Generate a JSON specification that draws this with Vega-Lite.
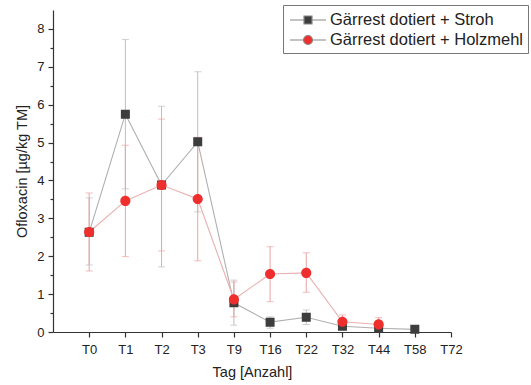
{
  "$schema": "https://vega.github.io/schema/vega-lite/v6.json",
  "autosize": {"type": "none"},
  "width": 398,
  "height": 322,
  "padding": {"left": 53, "top": 10, "right": 80, "bottom": 53},
  "background": "white",
  "config": {
    "view": {"stroke": null},
    "font": "Liberation Sans",
    "axis": {
      "domainColor": "#333",
      "tickColor": "#333",
      "labelColor": "#222",
      "titleColor": "#222",
      "labelFont": "Liberation Sans",
      "titleFont": "Liberation Sans",
      "labelFontSize": 13,
      "titleFontSize": 14.5,
      "titleFontWeight": "normal",
      "grid": false,
      "tickSize": 5,
      "domainWidth": 1.2,
      "tickWidth": 1.2
    }
  },
  "data": {
    "values": [
      {"tag": "T0", "series": "Gärrest dotiert + Stroh", "mean": 2.63, "lo": 1.77, "hi": 3.54},
      {"tag": "T1", "series": "Gärrest dotiert + Stroh", "mean": 5.75, "lo": 3.78, "hi": 7.72},
      {"tag": "T2", "series": "Gärrest dotiert + Stroh", "mean": 3.88, "lo": 1.72, "hi": 5.96},
      {"tag": "T3", "series": "Gärrest dotiert + Stroh", "mean": 5.02, "lo": 3.17, "hi": 6.87},
      {"tag": "T9", "series": "Gärrest dotiert + Stroh", "mean": 0.77, "lo": 0.18, "hi": 1.37},
      {"tag": "T16", "series": "Gärrest dotiert + Stroh", "mean": 0.26, "lo": 0.1, "hi": 0.4},
      {"tag": "T22", "series": "Gärrest dotiert + Stroh", "mean": 0.39, "lo": 0.2, "hi": 0.58},
      {"tag": "T32", "series": "Gärrest dotiert + Stroh", "mean": 0.15, "lo": 0.08, "hi": 0.22},
      {"tag": "T44", "series": "Gärrest dotiert + Stroh", "mean": 0.1, "lo": 0.05, "hi": 0.15},
      {"tag": "T58", "series": "Gärrest dotiert + Stroh", "mean": 0.07, "lo": 0.04, "hi": 0.1},
      {"tag": "T0", "series": "Gärrest dotiert + Holzmehl", "mean": 2.64, "lo": 1.61, "hi": 3.67},
      {"tag": "T1", "series": "Gärrest dotiert + Holzmehl", "mean": 3.46, "lo": 1.99, "hi": 4.93},
      {"tag": "T2", "series": "Gärrest dotiert + Holzmehl", "mean": 3.88, "lo": 2.14, "hi": 5.62},
      {"tag": "T3", "series": "Gärrest dotiert + Holzmehl", "mean": 3.51, "lo": 1.88, "hi": 5.14},
      {"tag": "T9", "series": "Gärrest dotiert + Holzmehl", "mean": 0.86, "lo": 0.4, "hi": 1.32},
      {"tag": "T16", "series": "Gärrest dotiert + Holzmehl", "mean": 1.53, "lo": 0.8, "hi": 2.25},
      {"tag": "T22", "series": "Gärrest dotiert + Holzmehl", "mean": 1.56, "lo": 1.05, "hi": 2.09},
      {"tag": "T32", "series": "Gärrest dotiert + Holzmehl", "mean": 0.27, "lo": 0.1, "hi": 0.45},
      {"tag": "T44", "series": "Gärrest dotiert + Holzmehl", "mean": 0.2, "lo": 0.03, "hi": 0.38}
    ]
  },
  "encoding": {
    "x": {
      "field": "tag",
      "type": "ordinal",
      "scale": {
        "type": "point",
        "domain": ["T0", "T1", "T2", "T3", "T9", "T16", "T22", "T32", "T44", "T58", "T72"],
        "padding": 0.5,
        "align": 1
      },
      "axis": {"title": "Tag [Anzahl]", "labelAngle": 0, "labelPadding": 6, "titlePadding": 9}
    }
  },
  "layer": [
    {
      "mark": {"type": "rule", "strokeWidth": 1},
      "encoding": {
        "y": {
          "field": "lo",
          "type": "quantitative",
          "scale": {"domain": [0, 8.5], "nice": false},
          "axis": {"title": "Ofloxacin [µg/kg TM]", "values": [0, 1, 2, 3, 4, 5, 6, 7, 8], "titlePadding": 7, "labelPadding": 4}
        },
        "y2": {"field": "hi"},
        "detail": {"field": "series"},
        "stroke": {"condition": {"test": "datum.series === 'Gärrest dotiert + Stroh'", "value": "#bdbdbd"}, "value": "#eba3a3"}
      }
    },
    {
      "mark": {"type": "tick", "orient": "horizontal", "size": 7, "thickness": 1},
      "encoding": {
        "y": {
          "field": "lo",
          "type": "quantitative",
          "scale": {"domain": [0, 8.5], "nice": false},
          "axis": {"orient": "left", "offset": 0, "title": null, "values": [0.5, 1.5, 2.5, 3.5, 4.5, 5.5, 6.5, 7.5], "labels": false, "domain": false, "tickSize": 3}
        },
        "detail": {"field": "series"},
        "color": {"condition": {"test": "datum.series === 'Gärrest dotiert + Stroh'", "value": "#bdbdbd"}, "value": "#eba3a3"}
      }
    },
    {
      "mark": {"type": "tick", "orient": "horizontal", "size": 7, "thickness": 1},
      "encoding": {
        "y": {"field": "hi", "type": "quantitative", "scale": {"domain": [0, 8.5], "nice": false}, "axis": null},
        "detail": {"field": "series"},
        "color": {"condition": {"test": "datum.series === 'Gärrest dotiert + Stroh'", "value": "#bdbdbd"}, "value": "#eba3a3"}
      }
    },
    {
      "mark": {"type": "line", "strokeWidth": 1.1},
      "encoding": {
        "y": {"field": "mean", "type": "quantitative", "scale": {"domain": [0, 8.5], "nice": false}, "axis": null},
        "detail": {"field": "series"},
        "stroke": {"condition": {"test": "datum.series === 'Gärrest dotiert + Stroh'", "value": "#b0b0b0"}, "value": "#e9b0b0"}
      }
    },
    {
      "mark": {"type": "point", "filled": true, "opacity": 1, "size": 506, "strokeWidth": 0},
      "encoding": {
        "y": {"field": "mean", "type": "quantitative", "scale": {"domain": [0, 8.5], "nice": false}, "axis": null},
        "color": {
          "field": "series",
          "type": "nominal",
          "scale": {"domain": ["Gärrest dotiert + Stroh", "Gärrest dotiert + Holzmehl"], "range": ["#3d3d3d", "#ef2e2e"]},
          "legend": {
            "title": null,
            "orient": "none",
            "legendX": 230,
            "legendY": -5,
            "strokeColor": "#777",
            "fillColor": "white",
            "padding": 4,
            "labelFont": "Liberation Sans",
            "labelFontSize": 16.5,
            "labelColor": "#222",
            "labelLimit": 300,
            "symbolSize": 400,
            "symbolOffset": 10,
            "symbolStrokeWidth": 1.2,
            "symbolStrokeColor": "#888",
            "rowPadding": 0,
            "labelOffset": 11
          }
        },
        "shape": {
          "field": "series",
          "type": "nominal",
          "scale": {
            "domain": ["Gärrest dotiert + Stroh", "Gärrest dotiert + Holzmehl"],
            "range": [
              "M-1.8,0H-0.4M0.4,0H1.8M-0.4,-0.4H0.4V0.4H-0.4Z",
              "M-1.8,0H-0.45M0.45,0H1.8M-0.45,0A0.45,0.45,0,1,0,0.45,0A0.45,0.45,0,1,0,-0.45,0Z"
            ]
          },
          "legend": {
            "title": null,
            "orient": "none",
            "legendX": 230,
            "legendY": -5,
            "strokeColor": "#777",
            "fillColor": "white",
            "padding": 4,
            "labelFont": "Liberation Sans",
            "labelFontSize": 16.5,
            "labelColor": "#222",
            "labelLimit": 300,
            "symbolSize": 400,
            "symbolOffset": 10,
            "symbolStrokeWidth": 1.2,
            "symbolStrokeColor": "#888",
            "rowPadding": 0,
            "labelOffset": 11
          }
        }
      }
    }
  ],
  "resolve": {"axis": {"y": "independent"}}
}
